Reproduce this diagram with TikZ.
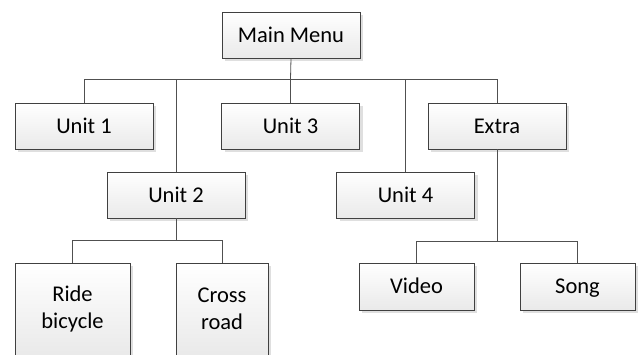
\documentclass[tikz,border=0pt]{standalone}
\usepackage{fontspec}
\setmainfont{Carlito}
\usetikzlibrary{shadows}
\definecolor{edge}{HTML}{505050}
\definecolor{boxline}{HTML}{404040}
\begin{document}
\begin{tikzpicture}[x=1pt,y=-1pt,
    menubox/.style={draw=boxline, line width=0.8pt, top color=white, bottom color=gray!17,
      drop shadow={shadow xshift=3pt, shadow yshift=-3pt, fill=gray!25, opacity=1},
      minimum width=138pt, minimum height=46pt, inner sep=0pt, align=center,
      font=\fontsize{22.5}{27}\selectfont},
    onerow/.style={text height=17pt, text depth=3pt},
    leafbox/.style={menubox, minimum width=115pt, minimum height=47pt},
    link/.style={draw=edge, line width=0.8pt}]
    % frame
    \clip (0,0) rectangle (640,354);
    \fill[white] (0,0) rectangle (640,354);

    % boxes
    \node[menubox, onerow] (main) at (291,35) {Main Menu};
    \node[menubox, onerow] (u1) at (84,126) {Unit 1};
    \node[menubox, onerow] (u3) at (290.5,126) {Unit 3};
    \node[menubox, onerow] (extra) at (497,126) {Extra};
    \node[menubox, onerow] (u2) at (176,195) {Unit 2};
    \node[menubox, onerow] (u4) at (405.5,195) {Unit 4};
    \node[leafbox, onerow] (video) at (416.5,286.5) {Video};
    \node[leafbox, onerow] (song) at (577.5,286.5) {Song};
    \node[leafbox, minimum height=92pt] (ride) at (72.5,309) {Ride\\bicycle};
    \node[leafbox, minimum width=92pt, minimum height=92pt] (cross) at (222,309) {Cross\\road};

    % connectors
    \coordinate (bus) at (290.5,79);
    \coordinate (bus2) at (176,240);
    \coordinate (busx) at (497,241);
    \draw[link] (main.south) -- (bus);
    \foreach \n in {u1,u2,u3,u4,extra}
      \draw[link] (bus) -| (\n.north);
    \draw[link] (u2.south) -- (bus2);
    \foreach \n in {ride,cross}
      \draw[link] (bus2) -| (\n.north);
    \draw[link] (extra.south) -- (busx);
    \foreach \n in {video,song}
      \draw[link] (busx) -| (\n.north);
\end{tikzpicture}
\end{document}
